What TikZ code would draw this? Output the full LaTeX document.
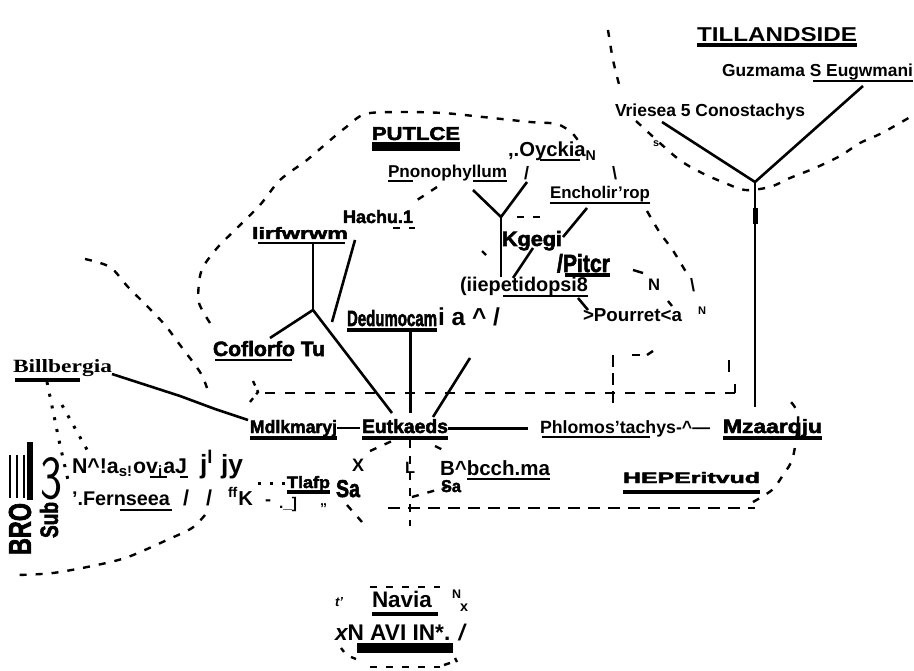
\documentclass[tikz,border=0pt]{standalone}
\usepackage{fontspec}
\setmainfont{Liberation Sans}
\newfontfamily\blk{Liberation Sans}[BoldFeatures={FakeBold=2.5}]
\newfontfamily\serb{Liberation Serif}
\newcommand\lb[2]{\resizebox{#1pt}{!}{\bfseries #2}}
\newcommand\lbh[3]{\resizebox{#1pt}{#2pt}{\bfseries #3}}
\newcommand\bk[3]{\resizebox{#1pt}{#2pt}{\blk\bfseries #3}}
\begin{document}
\begin{tikzpicture}[x=1pt,y=-1pt]
\tikzset{
 sol/.style={line width=2.6pt},
 dsh/.style={line width=2.4pt, dash pattern=on 7pt off 9pt},
 dshl/.style={line width=2.4pt, dash pattern=on 12pt off 8pt},
 dotl/.style={line width=3pt, dash pattern=on 3pt off 9pt},
 ul/.style={line width=2pt},
 ulb/.style={line width=3.2pt},
 lab/.style={anchor=base west, inner sep=0pt, outer sep=0pt},
}
\useasboundingbox[fill=white] (0,0) rectangle (914,671);

% ---------- Tillandsioideae ----------
\node[lab] (til) at (697,42) {\lbh{160}{14}{TILLANDSIDE}};
\draw[ulb] (697,45) -- (857,45);
\node[lab] (gz) at (722,77) {\lb{191}{Guzmama S Eugwmani}};
\draw[ul] (813,81) -- (913,81);
\node[lab] (vr) at (615,117) {\lb{190}{Vriesea 5 Conostachys}};
\node[lab] (s1) at (653,147) {\lb{6}{s}};
\coordinate (tvr) at (662,122);
\coordinate (tgz) at (863,86);
\coordinate (tj) at (755,182);
\coordinate (tbot) at (755,407);
\coordinate (tk1) at (755,208);
\coordinate (tk2) at (755,224);
\draw[sol] (tvr) -- (tj);
\draw[sol] (tgz) -- (tj);
\draw[sol] (tj) -- (tbot);
\draw[line width=5pt] (tk1) -- (tk2);
\draw[dsh] plot[smooth] coordinates {(608,30)(613,60)(620,88)};
\draw[dsh] plot[smooth] coordinates {(636,121)(677,158)(702,173)(725,183)(745,190)(770,187)(790,178)(815,168)(840,156)(860,143)(882,133)(912,116)};

% ---------- Pitcairnioid cluster ----------
\node[lab] (pu) at (372,140) {\bk{88}{13}{PUTLCE}};
\draw[line width=9pt] (372,147) -- (460,147);
\node[lab] (dy) at (508,157) {\lb{89}{,.Oyckia\textsubscript{N}}};
\draw[ul] (540,160) -- (580,160);
\node[lab] (pn) at (388,178) {\lb{119}{Pnonophyllum}};
\draw[ul] (388,181) -- (413,181);
\draw[ul] (473,181) -- (507,181);
\node[lab] (sl1) at (524,180) {\lb{5}{/}};
\node[lab] (bs1) at (612,180) {\lb{5}{\textbackslash}};
\node[lab] (en) at (550,199) {\lb{100}{Encholir'rop}};
\draw[ul] (550,203) -- (650,203);
\node[lab] (ha) at (343,223) {\bk{70}{13}{Hachu.1}};
\node[lab] (li) at (252,239) {\bk{96}{12}{lirfwrwm}};
\draw[ul] (258,243) -- (345,243);
\node[lab] (kg) at (502,246) {\bk{60}{15}{Kgegi}};
\node[lab] (pi) at (557,272) {\bk{53}{18}{/Pitcr}};
\draw[ulb] (565,275) -- (610,275);
\node[lab] (lp) at (460,292) {\lb{128}{(iiepetidopsi8}};
\draw[ul] (503,296) -- (588,296);
\node[lab] (n1) at (648,291) {\lb{12}{N}};
\node[lab] (bs2) at (690,292) {\lb{5}{\textbackslash}};
\node[lab] (n2) at (698,315) {\lb{8}{N}};
\node[lab] (po) at (583,322) {\lb{99}{>Pourret<a}};
\node[lab] (de) at (347,326) {\bk{90}{16}{Dedumocam}};
\node[lab] (de2) at (438,326) {\lb{62}{i a \^{} /}};
\draw[ulb] (347,330) -- (437,330);
\node[lab] (co) at (213,356) {\bk{112}{15}{Coflorfo Tu}};
\draw[ul] (215,360) -- (292,360);

\coordinate (j2) at (501,217);
\coordinate (j2a) at (473,190);
\coordinate (j2b) at (527,182);
\coordinate (j2c) at (501,277);
\draw[sol] (j2a) -- (j2);
\draw[sol] (j2b) -- (j2);
\draw[sol] (j2) -- (j2c);
\coordinate (enk1) at (587,208);
\coordinate (enk2) at (563,237);
\draw[sol] (enk1) -- (enk2);
\coordinate (kgl1) at (533,248);
\coordinate (kgl2) at (513,278);
\draw[sol] (kgl1) -- (kgl2);
\coordinate (lpp1) at (578,298);
\coordinate (lpp2) at (588,310);
\draw[sol] (lpp1) -- (lpp2);
\coordinate (j1) at (313,310);
\coordinate (li1) at (313,243);
\coordinate (co1) at (270,338);
\coordinate (eu1) at (392,413);
\draw[sol] (li1) -- (j1);
\draw[sol] (j1) -- (co1);
\draw[sol] (j1) -- (eu1);
\coordinate (li2) at (355,240);
\coordinate (li3) at (332,322);
\draw[sol] (li2) -- (li3);
\coordinate (de1) at (410,331);
\coordinate (eu2) at (410,413);
\draw[line width=3pt] (de1) -- (eu2);
\coordinate (de3) at (470,358);
\coordinate (eu3) at (433,417);
\draw[sol] (de3) -- (eu3);

% dashed loops of the upper part
\draw[dsh] plot[smooth] coordinates {(210,323)(199,303)(199,283)(203,267)(218,247)(235,230)(260,205)(280,180)(307,160)(328,142)(345,128)(365,114)(400,112)(443,113)(483,117)(530,122)(557,124)(572,133)(579,142)};
\draw[dsh] plot[smooth] coordinates {(647,211)(660,233)(672,249)(686,272)};
\draw[dsh] (437,187) -- (411,204);
\draw[dsh] (393,228) -- (415,228);
\draw[dsh] (517,217) -- (545,217);
\draw[line width=2.4pt] (633,270) -- (643,273);
\draw[line width=2.4pt] (668,301) -- (672,306);
\draw[line width=2.4pt] (482,251) -- (486,255);

% ---------- main horizontal row ----------
\node[lab] (bil) at (13,373) {\resizebox{99pt}{13pt}{\serb\bfseries Billbergia}};
\draw[ulb] (15,380) -- (80,380);
\node[lab] (md) at (250,433) {\bk{87}{13}{Mdlkmaryj}};
\draw[ulb] (250,438) -- (337,438);
\node[lab] (eu) at (362,433) {\bk{86}{14}{Eutkaeds}};
\draw[ulb] (362,438) -- (448,438);
\node[lab] (phl) at (540,433) {\lb{170}{Phlomos'tachys-\^{}---}};
\draw[ul] (542,437) -- (650,437);
\node[lab] (mz) at (723,433) {\bk{99}{14}{Mzaarqju}};
\draw[ulb] (723,438) -- (822,438);
\coordinate (bl1) at (112,374);
\coordinate (bl2) at (180,396);
\coordinate (bl3) at (215,409);
\coordinate (bl4) at (248,420);
\draw[sol] (bl1) -- (bl2) -- (bl3) -- (bl4);
\coordinate (mde) at (337,428);
\coordinate (euw) at (360,428);
\coordinate (eue) at (448,428);
\coordinate (phw) at (528,428);
\draw[sol] (mde) -- (euw);
\draw[line width=3pt] (eue) -- (phw);

% dashed frame round the middle
\draw[dsh] plot[smooth] coordinates {(85,259)(110,267)(128,287)(148,307)(165,325)(180,345)(200,372)(207,388)};
\draw[line width=2.4pt, dash pattern=on 5pt off 5pt] (253,381) -- (258,392) -- (250,402);
\draw[line width=2.4pt, dash pattern=on 10pt off 10pt] (265,393) -- (737,393);
\draw[line width=2.4pt, dash pattern=on 12pt off 6pt] (613,355) -- (613,408);
\draw[line width=2.4pt] (729,360) -- (729,372);
\draw[line width=2.4pt] (735,384) -- (735,393);
\draw[line width=2.4pt] (632,355) -- (640,355);
\draw[line width=2.4pt] (647,355) -- (653,351);
\draw[dshl] (388,508) -- (755,508);
\draw[dsh] plot[smooth] coordinates {(753,502)(772,490)(783,475)(793,457)(798,415)(787,398)};
\draw[dsh] plot[smooth] coordinates {(205,515)(192,528)(167,540)(128,557)(97,565)(53,573)(18,575)};
\draw[dotl] (47,382) -- (60,445) -- (68,480);
\draw[dotl] (62,405) -- (90,455);
\draw[dsh] (370,451) -- (392,441);
\draw[dsh] (435,446) -- (449,453);
\draw[line width=2.4pt, dash pattern=on 8pt off 8pt] (410,440) -- (410,526);
\draw[dsh] (412,497) -- (447,487);
\draw[dsh] (347,505) -- (362,522);
\draw[dotl] (258,483) -- (287,483);

% ---------- lower left labels ----------
\node[lab] (na) at (72,473) {\lb{115}{N\^{}!a\textsubscript{s!}ov\textsubscript{i}aJ}};
\draw[ul] (150,477) -- (167,477);
\draw[ul] (180,477) -- (188,477);
\node[lab] (jj) at (200,473) {\lb{43}{j\textsuperscript{l} jy}};
\node[lab] (fe) at (72,505) {\lb{98}{'.Fernseea}};
\draw[ul] (120,510) -- (172,510);
\node[lab] (sl2) at (183,505) {\lb{6}{/}};
\node[lab] (sl3) at (206,505) {\lb{6}{/}};
\node[lab] (ffk) at (228,505) {\lb{25}{\textsuperscript{ff}K}};
\node[lab] (dsh1) at (265,505) {\lb{6}{-}};
\node[lab] (brk) at (279,508) {\lb{18}{.\_]}};
\node[lab] (brq) at (320,505) {\lb{7}{„}};
\node[lab] (tl) at (287,488) {\bk{43}{12}{Tlafp}};
\draw[line width=4pt] (287,492) -- (330,492);
\node[lab] (sa) at (336,497) {\bk{24}{17}{Sa}};
\node[lab] (xx) at (352,471) {\lb{12}{X}};
\node[lab] (ll) at (405,473) {\lb{10}{L}};
\node[lab] (br) at (440,475) {\lb{110}{B\^{}bcch.ma}};
\draw[ul] (467,479) -- (550,479);
\node[lab] (brs) at (441,492) {\bk{20}{12}{Sa}};
\node[lab] (he) at (623,483) {\bk{137}{11}{HEPEritvud}};
\draw[line width=4pt] (623,492) -- (760,492);

% ---------- far left ----------
\draw[line width=2.6pt] (10,455) -- (10,498);
\draw[line width=2.6pt] (17,455) -- (17,498);
\draw[line width=2.6pt] (24,455) -- (24,498);
\draw[line width=6pt] (30,442) -- (30,500);
\node[lab] (three) at (40,498) {\resizebox{22pt}{41pt}{\sffamily 3}};
\node[rotate=90, inner sep=0pt] (rb1) at (20,529) {\bk{52}{22}{BRO}};
\node[rotate=90, inner sep=0pt] (rb2) at (49,520) {\bk{36}{18}{Sub}};

% ---------- Navia ----------
\node[lab] (tq) at (335,606) {\lb{8}{\itshape t'}};
\node[lab] (nv) at (372,607) {\lb{60}{Navia}};
\draw[ulb] (372,614) -- (438,614);
\node[lab] (nn) at (452,598) {\lb{9}{N}};
\node[lab] (nx) at (460,611) {\lb{8}{x}};
\node[lab] (nvi) at (335,640) {\lb{130}{{\itshape x}N AVI IN*. {\itshape /}}};
\draw[line width=10pt] (357,648) -- (453,648);
\draw[dsh] (370,587) -- (440,587);
\draw[dsh] (370,667) -- (440,667);
\draw[line width=2.4pt] (341,648) -- (344,652);
\draw[line width=2.4pt] (351,657) -- (356,659);
\draw[line width=2.4pt] (455,658) -- (457,662);
\draw[line width=2.4pt] (444,665) -- (450,663);
\end{tikzpicture}
\end{document}
